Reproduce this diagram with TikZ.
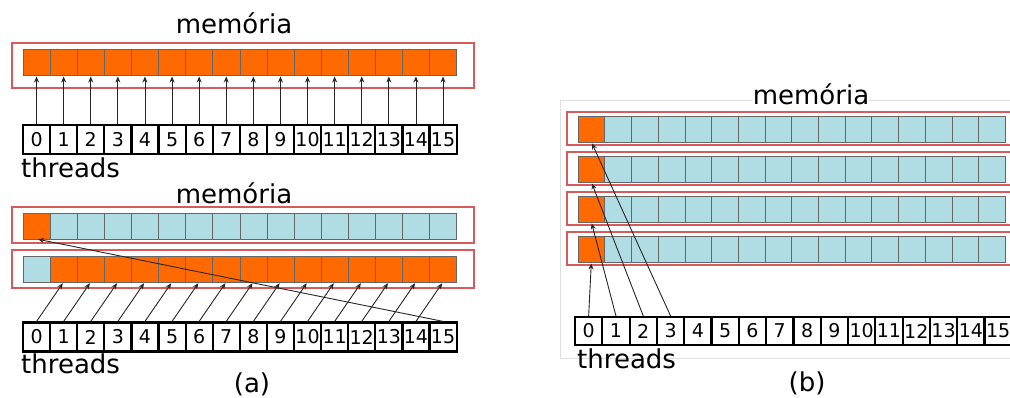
\documentclass[tikz,border=0pt]{standalone}
\usepackage{fontspec}
\setmainfont{DejaVu Sans}
\usetikzlibrary{arrows.meta}
\definecolor{celorange}{HTML}{FF6A00}
\definecolor{celblue}{HTML}{B0DCE3}
\definecolor{framered}{HTML}{D65C5C}

\begin{document}
\begin{tikzpicture}[x=1pt,y=-1pt,
  cellA/.style={draw=black!60, line width=0.6pt, minimum width=27.1pt, minimum height=26pt, inner sep=0pt, outer sep=0pt},
  cellB/.style={cellA, minimum width=26.7pt},
  thr/.style={draw=black, line width=2.2pt, fill=white, minimum width=27.1pt, minimum height=29pt, inner sep=0pt, font=\fontsize{19}{19}\selectfont},
  thrB/.style={thr, minimum width=27.3pt, minimum height=28pt},
  frame/.style={draw=framered, line width=2pt},
  arr/.style={-{Stealth[length=6pt,width=5pt]}, line width=0.9pt, black!85, shorten >=1.5pt},
  big/.style={inner sep=0pt, font=\fontsize{26}{30}\selectfont}]
\useasboundingbox[fill=white] (0,0) rectangle (1010,398);

% (a) acesso coalescido
\node[big, anchor=base] (mema) at (234,34) {memória};
\draw[frame] (12,43) rectangle (474,88);
\foreach \i in {0,...,15}{
  \node[cellA, fill=celorange] (a1m\i) at ({23+27.1*(\i+0.5)},62) {};
  \node[thr] (a1t\i) at ({23+27.1*(\i+0.5)},139.5) {\i};
  \draw[arr] (a1t\i.north) -- (a1m\i.south);
}
\node[big, anchor=base west] (thra) at (21,178) {threads};

% (a) acesso desalinhado
\node[big, anchor=base] (memb) at (234,204) {memória};
\draw[frame] (12,207) rectangle (474,243);
\draw[frame] (12,250) rectangle (474,288);
\node[cellA, fill=celorange] (a2u0) at ({23+27.1*0.5},226) {};
\node[cellA, fill=celblue] (a2l0) at ({23+27.1*0.5},269) {};
\foreach \i in {1,...,15}{
  \node[cellA, fill=celblue] (a2u\i) at ({23+27.1*(\i+0.5)},226) {};
  \node[cellA, fill=celorange] (a2l\i) at ({23+27.1*(\i+0.5)},269) {};
}
\foreach \i in {0,...,15}
  \node[thr] (a2t\i) at ({23+27.1*(\i+0.5)},337) {\i};
\foreach \i [evaluate=\i as \j using int(\i+1)] in {0,...,14}
  \draw[arr] (a2t\i.north) -- (a2l\j.south);
\draw[arr] (a2t15.north) -- (a2u0.south);
\node[big, anchor=base west] (thrb) at (21,373) {threads};
\node[big, anchor=north] (laba) at (252,373) {(a)};

% (b) acesso com passo
\draw[gray!25, line width=1pt] (1012,101) -- (560,101) -- (560,358) -- (1012,358);
\node[big, anchor=base, fill=white] (memc) at (811,105) {memória};
\foreach \k in {0,...,3}{
  \draw[frame] (567,{112+40*\k}) rectangle (1015,{145+40*\k});
  \node[cellB, fill=celorange] (bm\k-0) at ({578+26.7*0.5},{129+40*\k}) {};
  \foreach \i in {1,...,15}
    \node[cellB, fill=celblue] (bm\k-\i) at ({578+26.7*(\i+0.5)},{129+40*\k}) {};
}
\foreach \i in {0,...,15}
  \node[thrB] (bt\i) at ({575+27.3*(\i+0.5)},331) {\i};
\foreach \k [evaluate=\k as \r using int(3-\k)] in {0,...,3}
  \draw[arr] (bt\k.north) -- (bm\r-0.south);
\node[big, anchor=base west] (thrc) at (577,368) {threads};
\node[big, anchor=north] (labb) at (807,372) {(b)};
\end{tikzpicture}
\end{document}
